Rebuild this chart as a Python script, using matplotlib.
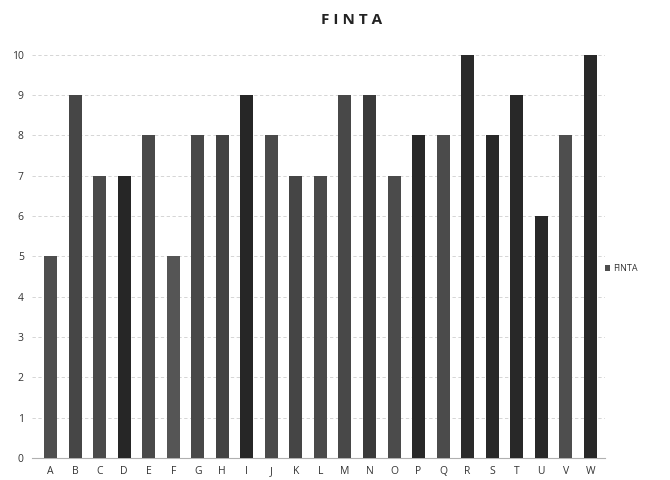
import matplotlib
matplotlib.use("Agg")
import matplotlib.pyplot as plt
import numpy as np

""" Data """
categories = ["A", "B", "C", "D", "E", "F", "G", "H", "I", "J", "K", "L",
              "M", "N", "O", "P", "Q", "R", "S", "T", "U", "V", "W"]
finta = [5, 9, 7, 7, 8, 5, 8, 8, 9, 8, 7, 7, 9, 9, 7, 8, 8, 10, 8, 9, 6, 8, 10]
yticks = [0, 1, 2, 3, 4, 5, 6, 7, 8, 9, 10]

# dark / grey shade per bar, as the printed copy shows them
shades = ["#4e4e4e", "#464646", "#4a4a4a", "#262626", "#494949", "#555555",
          "#484848", "#424242", "#262626", "#4a4a4a", "#454545", "#4a4a4a",
          "#484848", "#3a3a3a", "#4b4b4b", "#282828", "#4b4b4b", "#2a2a2a",
          "#282828", "#282828", "#282828", "#4e4e4e", "#282828"]

plt.rcParams["font.family"] = ["Open Sans", "DejaVu Sans"]

""" Plot """
fig = plt.figure(figsize=(6.7, 4.8), dpi=100)
ax = fig.add_axes([0.048, 0.046, 0.855, 0.84])

x = np.arange(len(categories))
ax.bar(x, finta, width=0.53, color=shades, label="FINTA", zorder=3)

ax.set_xlim(-0.75, 22.6)
ax.set_ylim(0, 10)
ax.set_xticks(x)
ax.set_xticklabels(categories, fontsize=7.5, color="#333333")
ax.set_yticks(yticks)
ax.set_yticklabels([str(v) for v in yticks], fontsize=7.5, color="#333333")
ax.tick_params(axis="both", length=0, pad=6)

ax.grid(axis="y", color="#cfcfcf", linewidth=0.6, linestyle=(0, (4, 3)), zorder=0)
for side in ["top", "right", "left"]:
    ax.spines[side].set_visible(False)
ax.spines["bottom"].set_color("#b0b0b0")
ax.spines["bottom"].set_linewidth(0.8)

fig.text(0.525, 0.958, "F I N T A", ha="center", va="center",
         fontsize=11, fontweight="bold", color="#222222")

ax.legend(loc="center left", bbox_to_anchor=(0.985, 0.47), frameon=False,
          fontsize=6.5, handlelength=0.6, handleheight=0.6, handletextpad=0.3,
          labelcolor="#333333")

fig.savefig("out.png", dpi=100)
